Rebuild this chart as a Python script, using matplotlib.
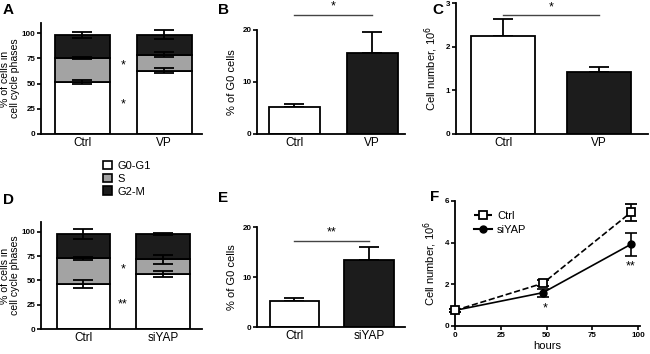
import numpy as np
import matplotlib
matplotlib.use("Agg")
import matplotlib.pyplot as plt
from matplotlib.patches import Patch
from matplotlib.lines import Line2D

plt.rcParams['font.family'] = ['Liberation Sans', 'DejaVu Sans']

W, H = 650, 354

# ---- data
phases = ["G0-G1", "S", "G2-M"]
phase_colors = ["white", "#a3a3a3", "#1c1c1c"]

groups_a = ["Ctrl", "VP"]
a_g0g1 = [52, 62.5]
a_g0g1_err = [2, 2.5]
a_s = [23, 16]
a_s_err = [1, 2.5]
a_g2m = [23.5, 20]
a_g2m_err = [3, 4.5]

b_g0 = [5.1, 15.5]
b_g0_err = [0.7, 4.1]

c_cells = [2.25, 1.42]
c_cells_err = [0.38, 0.12]

groups_d = ["Ctrl", "siYAP"]
d_g0g1 = [46, 56.5]
d_g0g1_err = [4, 3]
d_s = [26.5, 15]
d_s_err = [2, 4.5]
d_g2m = [25, 26]
d_g2m_err = [5, 1]

e_g0 = [5.2, 13.4]
e_g0_err = [0.6, 2.7]

f_hours = [0, 48, 96]
f_ctrl = [0.75, 2.05, 5.45]
f_ctrl_err = [0.08, 0.15, 0.42]
f_siyap = [0.75, 1.6, 3.92]
f_siyap_err = [0.08, 0.2, 0.55]


def ax_px(left, top, right, bottom):
    return fig.add_axes([left / W, 1 - bottom / H, (right - left) / W, (bottom - top) / H])


def style(ax):
    for s in ["top", "right"]:
        ax.spines[s].set_visible(False)
    for s in ["left", "bottom"]:
        ax.spines[s].set_linewidth(1.3)
    ax.tick_params(axis="y", labelsize=5.8, length=3, width=1.2, pad=1)
    ax.tick_params(axis="x", labelsize=8.5, length=0, pad=2)
    for t in ax.get_yticklabels():
        t.set_fontweight("bold")


def stacked(ax, groups, g0, g0e, s, se, g2, g2e):
    x = np.arange(len(groups))
    wd = 0.67
    bottoms = np.zeros(len(groups))
    for vals, col in zip([g0, s, g2], phase_colors):
        vals = np.array(vals)
        ax.bar(x, vals, wd, bottom=bottoms, color=col, edgecolor="black", linewidth=1.3, zorder=2)
        bottoms = bottoms + vals
    # error bars at the top of every segment
    bottoms = np.zeros(len(groups))
    for vals, errs in zip([g0, s, g2], [g0e, se, g2e]):
        vals = np.array(vals)
        ax.errorbar(x, bottoms + vals, yerr=errs, fmt="none", ecolor="black",
                    elinewidth=1.3, capsize=7, capthick=1.3, zorder=3)
        bottoms = bottoms + vals
    ax.set_xticks(x, groups)
    ax.set_ylim(0, 110)
    ax.set_yticks([0, 25, 50, 75, 100])
    ax.set_ylabel("% of cells in\ncell cycle phases", fontsize=7.6, labelpad=1, linespacing=1.1)
    style(ax)


def simple(ax, groups, vals, errs):
    x = np.arange(len(groups))
    ax.errorbar(x, vals, yerr=[[0, 0], errs], fmt="none", ecolor="black",
                elinewidth=1.3, capsize=7, capthick=1.3, zorder=1)
    ax.bar(x, vals, 0.66, color=["white", "#1c1c1c"], edgecolor="black", linewidth=1.3, zorder=2)
    ax.set_xticks(x, groups)
    style(ax)


fig = plt.figure(figsize=(W / 100, H / 100), dpi=100)

# A
axA = ax_px(41, 23, 202, 134)
stacked(axA, groups_a, a_g0g1, a_g0g1_err, a_s, a_s_err, a_g2m, a_g2m_err)
axA.set_xlim(-0.5, 1.46)
axA.text(0.5, 68, "*", ha="center", va="center", fontsize=9)
axA.text(0.5, 29, "*", ha="center", va="center", fontsize=9)

# B
axB = ax_px(257, 30, 405, 134)
simple(axB, groups_a, b_g0, b_g0_err)
axB.set_xlim(-0.48, 1.42)
axB.set_ylim(0, 20)
axB.set_yticks([0, 10, 20])
axB.set_ylabel("% of G0 cells", fontsize=8, labelpad=4)
axB.plot([0, 1], [22.9, 22.9], color="#444444", lw=1, clip_on=False)
axB.text(0.5, 23.4, "*", ha="center", va="bottom", fontsize=9)

# C
axC = ax_px(456, 3, 648, 134)
simple(axC, groups_a, c_cells, c_cells_err)
axC.set_xlim(-0.49, 1.51)
axC.set_ylim(0, 3)
axC.set_yticks([0, 1, 2, 3])
axC.set_ylabel("Cell number, 10$^6$", fontsize=8, labelpad=4)
axC.plot([0, 1], [2.72, 2.72], color="#444444", lw=1, clip_on=False)
axC.text(0.5, 2.75, "*", ha="center", va="bottom", fontsize=9)

# D
axD = ax_px(41, 222, 202, 329)
stacked(axD, groups_d, d_g0g1, d_g0g1_err, d_s, d_s_err, d_g2m, d_g2m_err)
axD.set_xlim(-0.53, 1.49)
axD.text(0.5, 61, "*", ha="center", va="center", fontsize=9)
axD.text(0.5, 25, "**", ha="center", va="center", fontsize=9)

# E
axE = ax_px(257, 227, 405, 327)
simple(axE, groups_d, e_g0, e_g0_err)
axE.set_xlim(-0.5, 1.48)
axE.set_ylim(0, 20)
axE.set_yticks([0, 10, 20])
axE.set_ylabel("% of G0 cells", fontsize=8, labelpad=4)
axE.plot([0, 1], [17.3, 17.3], color="#444444", lw=1, clip_on=False)
axE.text(0.5, 17.7, "**", ha="center", va="bottom", fontsize=9)

# F
axF = ax_px(455, 201, 640, 326)
axF.errorbar(f_hours, f_ctrl, yerr=f_ctrl_err, color="black", ls="--", lw=1.2,
             marker="s", ms=6, mfc="white", mec="black", mew=1.3,
             capsize=4, capthick=1.2, elinewidth=1.2, clip_on=False, zorder=3)
axF.errorbar(f_hours, f_siyap, yerr=f_siyap_err, color="black", ls="-", lw=1.2,
             marker="o", ms=5, mfc="black", mec="black",
             capsize=4, capthick=1.2, elinewidth=1.2, clip_on=False, zorder=2)
axF.set_xlim(0, 101)
axF.set_ylim(0, 6)
axF.set_yticks([0, 2, 4, 6])
axF.set_xticks([0, 25, 50, 75, 100])
axF.set_xlabel("hours", fontsize=8, labelpad=2)
axF.set_ylabel("Cell number, 10$^6$", fontsize=8, labelpad=4)
style(axF)
axF.tick_params(axis="x", labelsize=5.8, length=3, width=1.2, pad=1)
for t in axF.get_xticklabels():
    t.set_fontweight("bold")
axF.text(49, 0.85, "*", ha="center", va="center", fontsize=9)
axF.text(96, 2.85, "**", ha="center", va="center", fontsize=9)
f_handles = [Line2D([], [], color="black", ls="--", marker="s", ms=6, mfc="white", mew=1.3),
             Line2D([], [], color="black", ls="-", marker="o", ms=5, mfc="black")]
axF.legend(f_handles, ["Ctrl", "siYAP"], loc="upper left", bbox_to_anchor=(0.06, 0.98),
           frameon=False, fontsize=8, handlelength=1.6, handletextpad=0.5,
           labelspacing=0.3, borderpad=0.2)

# phase legend between A and D
ph_handles = [Patch(facecolor=c, edgecolor="black", linewidth=1.2) for c in phase_colors]
fig.legend(ph_handles, phases, loc="upper left", bbox_to_anchor=(96 / W, 1 - 154 / H),
           frameon=False, fontsize=8, handlelength=0.8, handleheight=0.8,
           handletextpad=0.5, labelspacing=0.25, borderpad=0.1)

# panel letters
for lab, xp, yp in [("A", 3, 3), ("B", 218, 3), ("C", 432, 3),
                    ("D", 3, 193), ("E", 218, 191), ("F", 430, 190)]:
    fig.text(xp / W, 1 - yp / H, lab, fontsize=11, fontweight="bold", va="top", ha="left")

fig.savefig("out.png", dpi=100)
